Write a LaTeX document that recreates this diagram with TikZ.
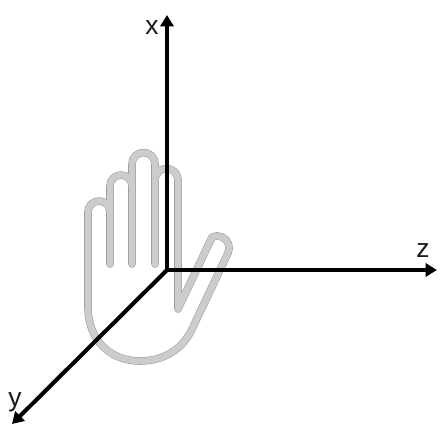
\documentclass[tikz,border=0pt]{standalone}
\usepackage{fontspec}
\setmainfont{Liberation Sans}
\usetikzlibrary{arrows.meta}
\tikzset{
  axis/.style={line width=2.3pt, -{Triangle[length=6.5pt, width=7.5pt]}},
  axislabel/.style={font=\fontsize{15}{17}\selectfont, inner sep=0pt, text=black!90},
  handline/.style={draw=black!20, line width=3.7pt, line cap=round, line join=round,
    preaction={draw=black!40, line width=4.3pt, line cap=round, line join=round}},
}
\begin{document}
\begin{tikzpicture}[x=0.02cm, y=-0.02cm]
  \useasboundingbox (0,0) rectangle (442,428);
  % hand: outer line, then the finger separators
  \draw[handline] (110,264) -- (110,212) arc[start angle=0, end angle=-180, radius=11]
    -- (88,307) .. controls (88,340) and (110,361) .. (140,361)
    .. controls (165,361) and (184,348) .. (193,327)
    -- (228,253) arc[start angle=25, end angle=-115, radius=12]
    -- (178,309) -- (178,180) arc[start angle=0, end angle=-180, radius=11.5] -- (155,264)
    (132,264) -- (132,164) arc[start angle=180, end angle=360, radius=11.5] -- (155,180)
    (110,212) -- (110,186) arc[start angle=180, end angle=360, radius=11] -- (132,200);
  % axes
  \coordinate (origin) at (167,270);
  \coordinate (xtip) at (167,15);
  \coordinate (ztip) at (437,270);
  \coordinate (ytip) at (12,424);
  \draw[axis] (origin) -- (xtip);
  \draw[axis] (origin) -- (ztip);
  \draw[axis] (origin) -- (ytip);
  \node[axislabel] (xlabel) at (152,28) {x};
  \node[axislabel] (zlabel) at (423,251) {z};
  \node[axislabel] (ylabel) at (15,402) {y};
\end{tikzpicture}
\end{document}
